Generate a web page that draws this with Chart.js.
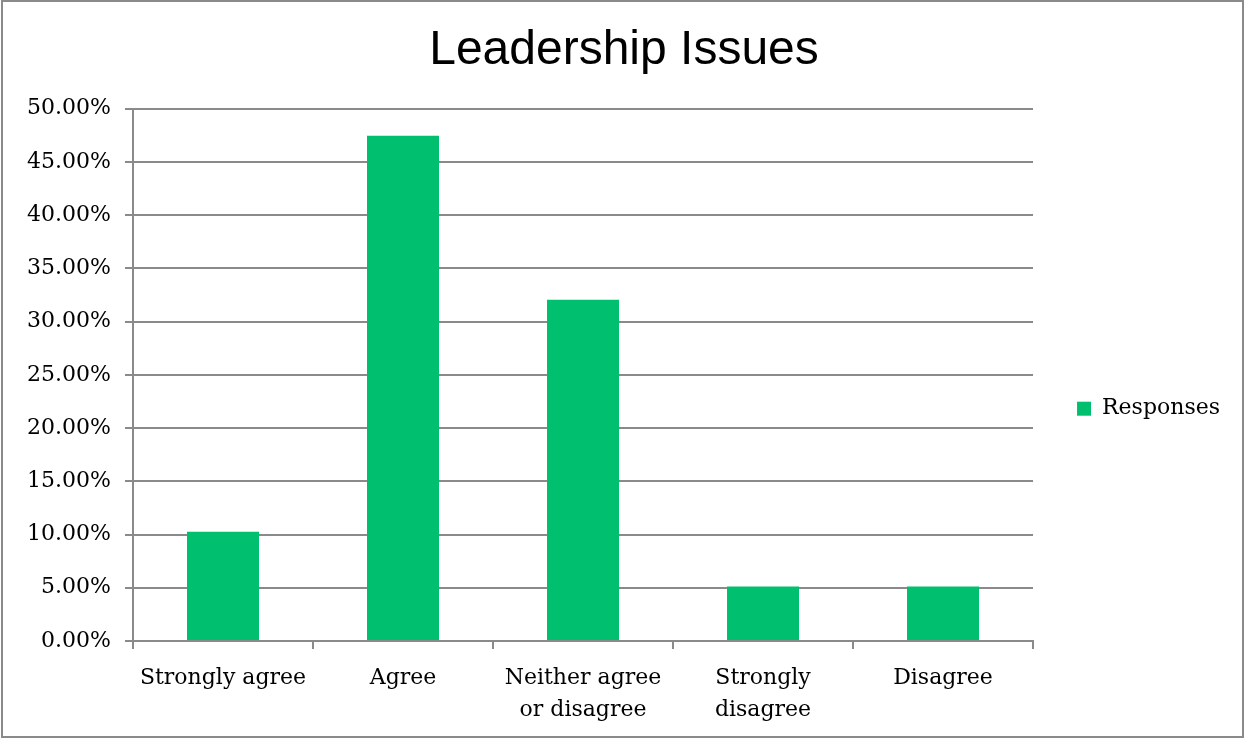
<!DOCTYPE html>
<html>
    <head>
        <title>Leadership Issues</title>
        <style>
            body { margin: 0; background: #fff; }
            #wrap { width: 1244px; height: 738px; }
        </style>
    </head>
    <body>
        <div id="wrap">
            <canvas id="issues" width="1244" height="738"></canvas>
        </div>
    </body>

    <script src="https://cdn.jsdelivr.net/npm/chart.js@4.4.1/dist/chart.umd.min.js"></script>

    <script>
        const categories = [
            "Strongly agree",
            "Agree",
            ["Neither agree", "or disagree"],
            ["Strongly", "disagree"],
            "Disagree"
        ];
        const responses = [10.26, 47.44, 32.05, 5.13, 5.13];
        const seriesName = "Responses";
        const yMax = 50;
        const yStep = 5;

        const GREEN = "#00bf6f";
        const LINE = "#8a8a8a";
        const SERIF = "'DejaVu Serif', serif";

        // white background and thin frame round the whole chart
        const frame = {
            id: "frame",
            beforeDraw(chart) {
                const c = chart.ctx;
                c.save();
                c.fillStyle = "#fff";
                c.fillRect(0, 0, chart.width, chart.height);
                c.strokeStyle = LINE;
                c.lineWidth = 2;
                c.strokeRect(2, 1, chart.width - 3, chart.height - 2);
                c.restore();
            }
        };

        const context = document.getElementById("issues").getContext("2d");

        const chart = new Chart(context, {
            type: "bar",
            data: {
                labels: categories,
                datasets: [{
                    label: seriesName,
                    data: responses,
                    backgroundColor: GREEN,
                    categoryPercentage: 1,
                    barPercentage: 0.4
                }]
            },
            options: {
                responsive: false,
                animation: false,
                layout: { padding: { left: 18, right: 14, top: 0, bottom: 10 } },
                plugins: {
                    title: {
                        display: true,
                        text: "Leadership Issues",
                        color: "#000",
                        font: { family: "'Liberation Sans', Arial, sans-serif", size: 48, weight: "normal" },
                        padding: { top: 22, bottom: 29 }
                    },
                    legend: {
                        position: "right",
                        // empty title only pushes the entry down a little
                        title: { display: true, text: "", padding: { top: 75, bottom: 0 } },
                        labels: {
                            color: "#000",
                            boxWidth: 14,
                            boxHeight: 14,
                            padding: 44,
                            font: { family: SERIF, size: 22 }
                        }
                    },
                    tooltip: { enabled: false }
                },
                scales: {
                    x: {
                        grid: {
                            offset: true,
                            drawOnChartArea: false,
                            tickLength: 8,
                            color: LINE,
                            lineWidth: 2
                        },
                        border: { color: LINE, width: 2 },
                        ticks: {
                            color: "#000",
                            padding: 13,
                            maxRotation: 0,
                            font: { family: SERIF, size: 22, lineHeight: 1.45 }
                        },
                        afterFit(scale) { scale.height = 87; }
                    },
                    y: {
                        min: 0,
                        max: yMax,
                        grid: { color: LINE, lineWidth: 2, tickLength: 8 },
                        border: { color: LINE, width: 2 },
                        ticks: {
                            stepSize: yStep,
                            color: "#000",
                            padding: 14,
                            font: { family: SERIF, size: 22 },
                            callback: (v) => v.toFixed(2) + "%"
                        },
                        afterFit(scale) { scale.width = 115; }
                    }
                }
            },
            plugins: [frame]
        });
    </script>
</html>
